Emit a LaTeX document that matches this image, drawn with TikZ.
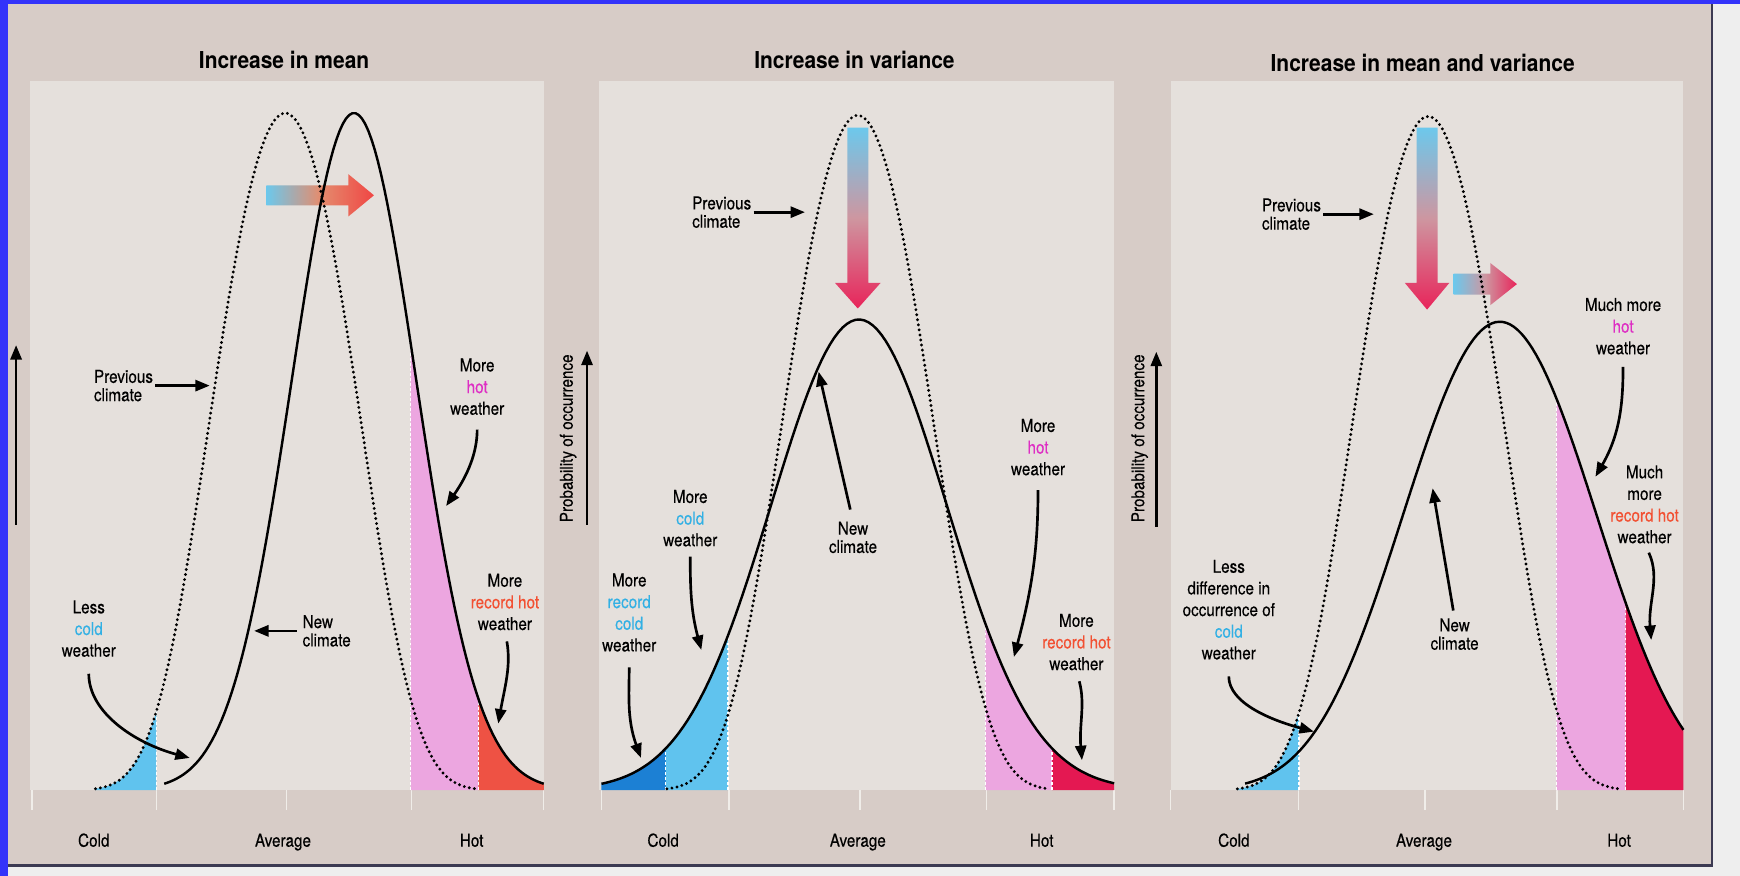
\documentclass[tikz,border=0pt]{standalone}
\usepackage{fontspec}
\setmainfont{TeX Gyre Heros}[FakeStretch=0.86, FakeBold=0.3]
\newfontfamily\titlefont{TeX Gyre Heros}[FakeStretch=0.9]
\usetikzlibrary{arrows.meta}

\definecolor{outside}{RGB}{238,238,238}
\definecolor{edgeblue}{RGB}{51,51,250}
\definecolor{framecol}{RGB}{60,58,82}
\definecolor{panelbg}{RGB}{215,204,199}
\definecolor{plotbg}{RGB}{229,224,220}
\definecolor{tickcol}{RGB}{240,237,233}
\definecolor{coldtxt}{RGB}{50,176,228}
\definecolor{hottxt}{RGB}{222,46,196}
\definecolor{rectxt}{RGB}{242,80,50}
\definecolor{coldfill}{RGB}{96,195,238}
\definecolor{reccoldfill}{RGB}{28,128,212}
\definecolor{hotfill}{RGB}{236,166,224}
\definecolor{rechotfill}{RGB}{238,82,68}
\definecolor{crimfill}{RGB}{228,24,82}
\definecolor{arrblue}{RGB}{108,200,236}
\definecolor{arrsalmon}{RGB}{228,140,110}
\definecolor{arrred}{RGB}{240,70,68}
\definecolor{arrmauve}{RGB}{206,150,160}
\definecolor{arrcrim}{RGB}{232,36,90}

\tikzset{
	ttl/.style={inner sep=0pt, font=\titlefont\bfseries\fontsize{21}{24}\selectfont},
	lbl/.style={align=center, inner sep=0pt, font=\fontsize{16}{19.5}\selectfont},
	clim/.style={align=left, inner sep=0pt, font=\fontsize{16}{16.5}\selectfont},
	axlbl/.style={inner sep=0pt, font=\fontsize{16}{19}\selectfont},
	callout/.style={->, line width=2.4pt},
	prevcurve/.style={line width=2.9pt, dash pattern=on 0pt off 4.6pt, line cap=round},
	newcurve/.style={line width=2.2pt},
	cutline/.style={white, line width=1.2pt, dash pattern=on 2.5pt off 2pt},
	axtick/.style={tickcol, line width=1.3pt}
}

\begin{document}
\begin{tikzpicture}[x=1pt, y=-1pt, >={Triangle[length=13pt, width=10pt]},
	declare function={
		bump(\x,\ctr,\qtwo,\qfour)=exp(-(\qtwo*(abs(\x-\ctr)/100)^2+\qfour*(abs(\x-\ctr)/100)^4));
		prevA(\x)=712-610*bump(\x,257,1.15,0.33);
		newA(\x)=712-610*bump(\x,319,1.594,0);
		prevB(\x)=712-608*bump(\x,773,1.15,0.33);
		newB(\x)=712-424*bump(\x,774,0.8,0);
		prevC(\x)=712-607*bump(\x,1287,1.15,0.33);
		newC(\x)=712-422*bump(\x,1351.5,0.68,0.025);
	}]
	\useasboundingbox (0,0) rectangle (1568,789);
	\fill[outside] (0,0) rectangle (1568,789);
	\fill[panelbg] (7,4) rectangle (1543,780);
	\draw[framecol, line width=2pt] (7,780) -- (1543,780) -- (1543,4);
	\fill[edgeblue] (0,0) rectangle (7,789);
	\fill[edgeblue] (0,0) rectangle (1568,4);
	\foreach \lft/\rgt in {27/490, 540/1004, 1055/1517}
		\fill[plotbg] (\lft,73) rectangle (\rgt,712);
	\foreach \tx in {29,141,258,371,490,542,657,775,889,1004,1055,1170,1284,1403,1517}
		\draw[axtick] (\tx,712) -- (\tx,730);

	\begin{scope}
		\fill[coldfill] (86,712) -- plot[domain=86:141, samples=30] (\x,{prevA(\x)}) -- (141,712) -- cycle;
		\fill[hotfill] (370,712) -- plot[domain=370:431, samples=30] (\x,{newA(\x)}) -- (431,712) -- cycle;
		\fill[rechotfill] (431,712) -- plot[domain=431:490, samples=30] (\x,{newA(\x)}) -- (490,712) -- cycle;
		\draw[cutline] (141,712) -- (141,{prevA(141)});
		\draw[cutline] (370,712) -- (370,{newA(370)});
		\draw[cutline] (431,712) -- (431,{newA(431)});
		\shade[left color=arrblue, right color=arrred, middle color=arrsalmon] (240,167) -- (314,167) -- (314,157) -- (337,176) -- (314,195) -- (314,185) -- (240,185) -- cycle;
		\draw[prevcurve] plot[domain=86:428, samples=120] (\x,{prevA(\x)});
		\draw[newcurve] plot[domain=148:490, samples=120] (\x,{newA(\x)});

		\node[ttl] (title1) at (256,54) {Increase in mean};
		\node[clim, anchor=west] (prev1) at (84.5,347.5) {Previous\\climate};
		\node[clim, anchor=west] (new1) at (272.5,568.5) {New\\climate};
		\node[lbl] (lesscold1) at (80,566.5) {Less\\\textcolor{coldtxt}{cold}\\weather};
		\node[lbl] (hot1) at (430,348.5) {More\\\textcolor{hottxt}{hot}\\weather};
		\node[lbl] (rechot1) at (455,542.5) {More\\\textcolor{rectxt}{record hot}\\weather};
		\node[axlbl, anchor=base] (cold1) at (84.5,763) {Cold};
		\node[axlbl, anchor=base] (avg1) at (255,763) {Average};
		\node[axlbl, anchor=base] (hotax1) at (425,763) {Hot};

		\coordinate (ybot1) at (14.5,473);
		\coordinate (ytop1) at (14.5,311);
		\coordinate (prev1tip) at (189,347.5);
		\coordinate (new1tip) at (229,568.5);
		\coordinate (lesscold1tip) at (171,683);
		\coordinate (hot1tip) at (402,456);
		\coordinate (rechot1tip) at (449,652);

		\draw[callout] (ybot1) -- (ytop1);
		\draw[callout, shorten <=2pt] (prev1.east) -- (prev1tip);
		\draw[callout, shorten <=5pt] (new1.west) -- (new1tip);
		\draw[callout, shorten <=15pt] (lesscold1.south) to[out=-90, in=165] (lesscold1tip);
		\draw[callout, shorten <=13pt] (hot1.south) to[out=-90, in=55] (hot1tip);
		\draw[callout, shorten <=10pt] (rechot1.south) to[out=-80, in=80] (rechot1tip);
	\end{scope}

	\begin{scope}
		\fill[reccoldfill] (542,712) -- plot[domain=542:600, samples=30] (\x,{newB(\x)}) -- (600,712) -- cycle;
		\fill[coldfill] (600,712) -- plot[domain=600:656, samples=30] (\x,{newB(\x)}) -- (656,712) -- cycle;
		\fill[hotfill] (888,712) -- plot[domain=888:948, samples=30] (\x,{newB(\x)}) -- (948,712) -- cycle;
		\fill[crimfill] (948,712) -- plot[domain=948:1004, samples=30] (\x,{newB(\x)}) -- (1004,712) -- cycle;
		\draw[cutline] (600,712) -- (600,{newB(600)});
		\draw[cutline] (656,712) -- (656,{newB(656)});
		\draw[cutline] (888,712) -- (888,{newB(888)});
		\draw[cutline] (948,712) -- (948,{newB(948)});
		\shade[top color=arrblue, bottom color=arrcrim, middle color=arrmauve] (763.5,115) -- (782.5,115) -- (782.5,255) -- (793.5,255) -- (773,278) -- (752.5,255) -- (763.5,255) -- cycle;
		\draw[prevcurve] plot[domain=601:946, samples=120] (\x,{prevB(\x)});
		\draw[newcurve] plot[domain=542:1004, samples=120] (\x,{newB(\x)});

		\node[ttl] (title2) at (770,54) {Increase in variance};
		\node[clim, anchor=west] (prev2) at (623.6,191.2) {Previous\\climate};
		\node[lbl, font=\fontsize{16}{16.5}\selectfont] (new2) at (768.7,484.3) {New\\climate};
		\node[lbl] (colder2) at (622,467) {More\\\textcolor{coldtxt}{cold}\\weather};
		\node[lbl] (reccold2) at (567,552) {More\\\textcolor{coldtxt}{record}\\\textcolor{coldtxt}{cold}\\weather};
		\node[lbl] (hot2) at (935.4,403) {More\\\textcolor{hottxt}{hot}\\weather};
		\node[lbl] (rechot2) at (970,578.6) {More\\\textcolor{rectxt}{record hot}\\weather};
		\node[axlbl, rotate=90] (prob2) at (512,395) {Probability of occurrence};
		\node[axlbl, anchor=base] (cold2) at (597.6,763) {Cold};
		\node[axlbl, anchor=base] (avg2) at (773,763) {Average};
		\node[axlbl, anchor=base] (hotax2) at (938.7,763) {Hot};

		\coordinate (ybot2) at (529,473);
		\coordinate (ytop2) at (529,316);
		\coordinate (prev2tip) at (725.4,191.2);
		\coordinate (new2tip) at (737.7,335);
		\coordinate (colder2tip) at (632,585.7);
		\coordinate (reccold2tip) at (577.6,683);
		\coordinate (hot2tip) at (913.7,592);
		\coordinate (rechot2tip) at (975,685);

		\draw[callout] (ybot2) -- (ytop2);
		\draw[callout, shorten <=2pt] (prev2.east) -- (prev2tip);
		\draw[callout, shorten <=11pt] (new2.north) -- (new2tip);
		\draw[callout, shorten <=9pt] (colder2.south) to[out=-90, in=105] (colder2tip);
		\draw[callout, shorten <=14pt] (reccold2.south) to[out=-90, in=110] (reccold2tip);
		\draw[callout, shorten <=13pt] (hot2.south) to[out=-90, in=75] (hot2tip);
		\draw[callout, shorten <=10pt] (rechot2.south) to[out=-75, in=95] (rechot2tip);
	\end{scope}

	\begin{scope}
		\fill[coldfill] (1115,712) -- plot[domain=1115:1170.5, samples=30] (\x,{prevC(\x)}) -- (1170.5,712) -- cycle;
		\fill[hotfill] (1402.5,712) -- plot[domain=1402.5:1465, samples=30] (\x,{newC(\x)}) -- (1465,712) -- cycle;
		\fill[crimfill] (1465,712) -- plot[domain=1465:1517, samples=30] (\x,{newC(\x)}) -- (1517,712) -- cycle;
		\draw[cutline] (1170.5,712) -- (1170.5,{prevC(1170.5)});
		\draw[cutline] (1402.5,712) -- (1402.5,{newC(1402.5)});
		\draw[cutline] (1465,712) -- (1465,{newC(1465)});
		\shade[top color=arrblue, bottom color=arrcrim, middle color=arrmauve] (1276.5,115) -- (1295.5,115) -- (1295.5,255) -- (1306,255) -- (1286,279) -- (1266,255) -- (1276.5,255) -- cycle;
		\shade[left color=arrblue, right color=arrcrim, middle color=arrmauve] (1310,246.5) -- (1343,246.5) -- (1343,237) -- (1367,256) -- (1343,275) -- (1343,265.5) -- (1310,265.5) -- cycle;
		\draw[prevcurve] plot[domain=1115:1459, samples=120] (\x,{prevC(\x)});
		\draw[newcurve] plot[domain=1122:1517, samples=120] (\x,{newC(\x)});

		\node[ttl] (title3) at (1282,57) {Increase in mean and variance};
		\node[clim, anchor=west] (prev3) at (1137,193) {Previous\\climate};
		\node[lbl, font=\fontsize{16}{16.5}\selectfont] (new3) at (1310.8,571.5) {New\\climate};
		\node[lbl] (hot3) at (1462.6,294) {Much more\\\textcolor{hottxt}{hot}\\weather};
		\node[lbl] (rechot3) at (1482,454.5) {Much\\more\\\textcolor{rectxt}{record hot}\\weather};
		\node[lbl] (lesscold3) at (1107.3,549.4) {Less\\difference in\\occurrence of\\\textcolor{coldtxt}{cold}\\weather};
		\node[axlbl, rotate=90] (prob3) at (1027,395) {Probability of occurrence};
		\node[axlbl, anchor=base] (cold3) at (1111.9,763) {Cold};
		\node[axlbl, anchor=base] (avg3) at (1283.2,763) {Average};
		\node[axlbl, anchor=base] (hotax3) at (1459,763) {Hot};

		\coordinate (ybot3) at (1042,474.6);
		\coordinate (ytop3) at (1042,317);
		\coordinate (prev3tip) at (1238,193);
		\coordinate (new3tip) at (1291,440);
		\coordinate (hot3tip) at (1437.7,429.6);
		\coordinate (rechot3tip) at (1488,576.7);
		\coordinate (lesscold3tip) at (1184,659.3);

		\draw[callout] (ybot3) -- (ytop3);
		\draw[callout, shorten <=2pt] (prev3.east) -- (prev3tip);
		\draw[callout, shorten <=7pt] (new3.north) -- (new3tip);
		\draw[callout, shorten <=11pt] (hot3.south) to[out=-90, in=60] (hot3tip);
		\draw[callout, shorten <=9pt] (rechot3.south) to[out=-65, in=95] (rechot3tip);
		\draw[callout, shorten <=15pt] (lesscold3.south) to[out=-90, in=165] (lesscold3tip);
	\end{scope}
\end{tikzpicture}
\end{document}
